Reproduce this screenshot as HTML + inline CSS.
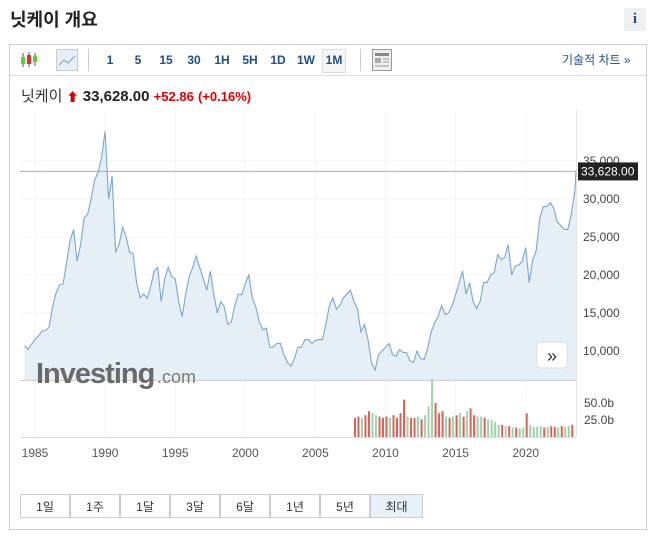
<!DOCTYPE html>
<html><head><meta charset="utf-8">
<style>
body{margin:0;width:658px;height:537px;background:#fff;font-family:"Liberation Sans","Noto Sans CJK KR",sans-serif;position:relative;overflow:hidden}
.abs{position:absolute}
.tb{position:absolute;top:50px;height:20px;line-height:20px;font-size:12px;font-weight:bold;color:#1f4e8c;text-align:center}
.btn{position:absolute;top:494px;height:24px;width:50px;line-height:24px;text-align:center;font-size:12px;color:#333;border:1px solid #ccc;box-sizing:border-box;background:#fff}
</style></head><body>
<div class="abs" style="left:10px;top:6px;font-size:18px;font-weight:bold;color:#222">닛케이 개요</div>
<div class="abs" style="left:624px;top:8px;width:22px;height:23px;background:#eef0f2;text-align:center;line-height:23px;font-family:'Liberation Serif',serif;font-weight:bold;font-size:15px;color:#1f4e8c">i</div>
<div class="abs" style="left:9px;top:44px;width:638px;height:486px;border:1px solid #ccc;box-sizing:border-box"></div>
<div class="abs" style="left:10px;top:75px;width:636px;height:1px;background:#ddd"></div>
<svg class="abs" style="left:18px;top:50px" width="22" height="20"><line x1="5" y1="3" x2="5" y2="17" stroke="#555"/><rect x="3" y="7" width="4" height="7" fill="#6c3"/><line x1="11" y1="2" x2="11" y2="17" stroke="#555"/><rect x="9" y="5" width="4" height="9" fill="#d33"/><line x1="17" y1="3" x2="17" y2="16" stroke="#555"/><rect x="15" y="6" width="4" height="6" fill="#6c3"/></svg>
<svg class="abs" style="left:56px;top:49px" width="22" height="22"><rect x="0.5" y="0.5" width="21" height="21" fill="#e8eef5" stroke="#ccc"/><polyline points="3,16 8,11 12,14 19,7" fill="none" stroke="#8ab" stroke-width="1.2"/></svg>
<div class="abs" style="left:88px;top:49px;width:1px;height:22px;background:#ccc"></div>
<div class="tb" style="left:100px;width:20px">1</div>
<div class="tb" style="left:128px;width:20px">5</div>
<div class="tb" style="left:155px;width:22px">15</div>
<div class="tb" style="left:183px;width:22px">30</div>
<div class="tb" style="left:211px;width:22px">1H</div>
<div class="tb" style="left:239px;width:22px">5H</div>
<div class="tb" style="left:267px;width:22px">1D</div>
<div class="tb" style="left:295px;width:22px">1W</div>
<div class="tb" style="left:322px;top:49px;width:22px;height:22px;border:1px solid #ddd;background:#f4f6f8">1M</div>
<div class="abs" style="left:360px;top:49px;width:1px;height:22px;background:#ccc"></div>
<svg class="abs" style="left:372px;top:49px" width="20" height="22"><rect x="0.5" y="0.5" width="19" height="21" fill="#eee" stroke="#999"/><rect x="3" y="4" width="14" height="3" fill="#888"/><rect x="3" y="9" width="6" height="5" fill="#aaa"/><line x1="11" y1="10" x2="17" y2="10" stroke="#999"/><line x1="11" y1="13" x2="17" y2="13" stroke="#999"/><line x1="3" y1="17" x2="17" y2="17" stroke="#999"/></svg>
<div class="abs" style="left:562px;top:50px;font-size:12px;color:#1f4e8c;line-height:20px">기술적 차트 »</div>
<div class="abs" style="left:21px;top:87px;font-size:15px;line-height:20px;white-space:nowrap"><span style="color:#333">닛케이</span> <span style="color:#d00;font-size:12px">&#x2B06;</span> <b style="color:#222">33,628.00</b> <b style="color:#d00;font-size:13px">+52.86</b> <b style="color:#d00;font-size:13px">(+0.16%)</b></div>
<svg class="abs" id="chart" style="left:0;top:0" width="658" height="537"></svg>
<div class="btn" style="left:20px">1일</div>
<div class="btn" style="left:70px">1주</div>
<div class="btn" style="left:120px">1달</div>
<div class="btn" style="left:170px">3달</div>
<div class="btn" style="left:220px">6달</div>
<div class="btn" style="left:270px">1년</div>
<div class="btn" style="left:320px">5년</div>
<div class="btn" style="left:370px;width:53px;background:#e8f0f8">최대</div>
<script>
const priceStartYear = 1984.25;
const priceValues = [
10700,10200,10900,11500, 12000,12600,12700,13100, 15800,17600,18700,18800, 21500,24500,26000,21800,
24000,27500,28000,30000, 32500,33500,35500,38900, 30000,33000,23000,24000, 26300,25000,23000,22800,
19000,17000,17500,16900, 18500,20500,21000,16500, 19500,21000,19800,19500, 16500,14500,17500,19800,
21000,22500,21000,19500, 18000,20500,17500,15000, 16500,15800,13500,13800, 16000,17500,17400,18900,
20000,17000,15800,13800, 12800,13000,10500,10500, 11000,11000,9500,8500, 8000,9000,10500,10500,
11500,11500,11000,11400, 11500,11500,13500,16000, 17000,15500,16000,17000, 17500,18000,16500,15500,
12500,13500,11500,8500, 7500,9500,10000,10500, 11000,9500,9300,10200, 9800,9800,8700,8500,
10000,9000,8900,10300, 12500,13700,14500,16000, 14800,15000,16000,17400, 19000,20500,17500,19000,
16500,15600,16500,19000, 19000,20000,20300,22700, 22000,22300,24000,20000, 21200,21300,21800,23600,
19000,22000,23200,27400, 29000,29000,29500,28800, 27000,26500,26000,26000, 28000,31000,33628];
const lastPrice = 33628;
const priceTicks = [10000,15000,20000,25000,30000,35000];
const priceTickLabels = ["10,000","15,000","20,000","25,000","30,000","35,000"];
const yearTicks = [1985,1990,1995,2000,2005,2010,2015,2020];
const volStartYear = 2007.75;
const volValues = [28, 30,28,32,38, 35,32,30,28, 30,28,32,28, 35,55,30,28, 28,30,26,32, 45,85,50,35,
38,30,28,30, 32,35,30,38, 42,32,30,30, 28,26,25,22, 18,18,16,16, 14,14,13,14, 35,18,15,15, 16,14,15,16, 15,14,16,15, 16,18];
const volDirs = ["d", "d","u","d","d", "u","u","d","d", "d","u","d","d", "d","d","u","d", "d","u","d","u", "u","u","d","d",
"d","u","d","u", "d","u","d","u", "d","d","u","u", "d","u","u","u", "u","d","u","d", "u","d","u","u", "d","u","u","u", "u","d","u","d", "d","u","d","u", "u","d"];
const volTicks = [25,50];
const volTickLabels = ["25.0b","50.0b"];

const NS="http://www.w3.org/2000/svg";
const svg=document.getElementById('chart');
const X=y=>35+(y-1985)*14.02;
const Y=v=>199-(v-30000)*38/5000;
const VY=v=>437-v*17/25;
const PL=20, PR=576, PB=380;
function el(t,a){const e=document.createElementNS(NS,t);for(const k in a)e.setAttribute(k,a[k]);svg.appendChild(e);return e;}
yearTicks.forEach(y=>{const g=el('line',{x1:X(y),x2:X(y),y1:110,y2:437,stroke:'#f5f5f5'});

});
priceTicks.forEach(v=>{const g=el('line',{x1:PL,x2:PR,y1:Y(v),y2:Y(v),stroke:'#f5f5f5'});

});
const rb=el('line',{x1:PR+0.5,x2:PR+0.5,y1:110,y2:437,stroke:'#e4e4e4'});


let pts=priceValues.map((v,i)=>[Math.min(PR,X(priceStartYear+i*0.25)),Y(v)]);
const d=pts.map((p,i)=>(i?'L':'M')+p[0].toFixed(1)+','+p[1].toFixed(1)).join('');
const area=el('path',{d:d+`L${pts[pts.length-1][0]},${PB}L${pts[0][0]},${PB}Z`,fill:'#e6eef6'});


const line=el('path',{d:d,fill:'none',stroke:'#7aa6cf','stroke-width':1.1});


const base=el('line',{x1:PL,x2:PR,y1:PB+0.5,y2:PB+0.5,stroke:'#ccc'});


const lp=el('line',{x1:PL,x2:PR,y1:Y(lastPrice),y2:Y(lastPrice),stroke:'#f08c98'});


const wm=el('text',{x:36,y:383,'font-size':29,'font-weight':'bold',fill:'#6a6a6a','letter-spacing':'-1'});
wm.textContent='Investing';


const wm2=el('text',{x:157,y:383,'font-size':18,fill:'#7a7a7a'});
wm2.textContent='.com';


priceTicks.forEach((v,i)=>{const t=el('text',{x:583,y:Y(v)+4,'font-size':12,fill:'#444'});t.textContent=priceTickLabels[i];

});
const lb=el('rect',{x:578,y:Y(lastPrice)-9,width:60,height:18,fill:'#222'});


const lt=el('text',{x:581,y:Y(lastPrice)+4,'font-size':12,fill:'#fff'});lt.textContent='33,628.00';


const sb=el('rect',{x:537,y:342,width:30,height:26,rx:3,fill:'#fff',stroke:'#ddd'});


const sbt=el('text',{x:552,y:362,'font-size':18,fill:'#333','text-anchor':'middle'});sbt.textContent='»';


volValues.forEach((v,i)=>{const x=X(volStartYear+i*0.25);const r=el('rect',{x:x,y:VY(v),width:2,height:437-VY(v),fill:volDirs[i]==='u'?'#9fd3ab':'#d9625a'});

});
const vb=el('line',{x1:PL,x2:PR,y1:437.5,y2:437.5,stroke:'#ddd'});


volTicks.forEach((v,i)=>{const t=el('text',{x:584,y:VY(v)+4,'font-size':12,fill:'#444'});t.textContent=volTickLabels[i];

});
yearTicks.forEach(y=>{const t=el('text',{x:X(y),y:457,'font-size':12,fill:'#555','text-anchor':'middle'});t.textContent=y;

});
</script>
</body></html>
